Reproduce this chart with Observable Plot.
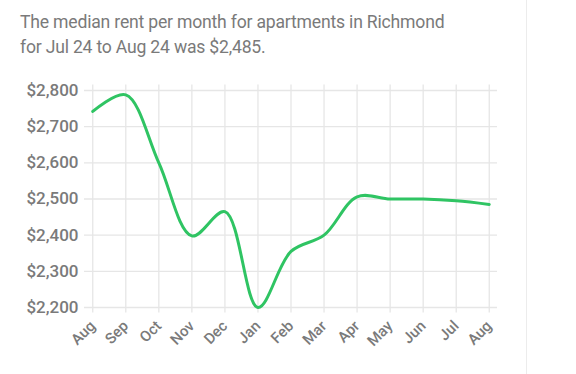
<!DOCTYPE html>
<html>
<head>
<meta charset="utf-8">
<script src="https://cdn.jsdelivr.net/npm/d3@7"></script>
<script src="https://cdn.jsdelivr.net/npm/@observablehq/plot@0.6"></script>
<style>
  html, body { margin: 0; padding: 0; background: #fff; }
  #wrap { position: relative; width: 576px; height: 374px; overflow: hidden; }
  #title { position: absolute; left: 20px; top: 10px; width: 470px; font-family: Roboto, "Noto Sans", sans-serif; font-size: 17.6px; line-height: 25px; color: #7a7a7a; letter-spacing: -0.2px; }
  #border { position: absolute; left: 526px; top: 0; width: 1px; height: 374px; background: #ececec; }
  #chart { position: absolute; left: 0; top: 0; }
</style>
</head>
<body>
<div id="wrap">
  <div id="chart"></div>
  <div id="title">The median rent per month for apartments in Richmond<br>for Jul 24 to Aug 24 was $2,485.</div>
  <div id="border"></div>
</div>
<script>
const months = ["Aug", "Sep", "Oct", "Nov", "Dec", "Jan", "Feb", "Mar", "Apr", "May", "Jun", "Jul", "Aug"];
const rents = [2742, 2788, 2600, 2398, 2465, 2200, 2355, 2400, 2506, 2500, 2500, 2495, 2485];
const yTicks = [2200, 2300, 2400, 2500, 2600, 2700, 2800];

const data = months.map((m, i) => ({i, month: m, rent: rents[i]}));
const idx = months.map((m, i) => i);
const fmt = d3.format("$,");

const chart = Plot.plot({
  width: 576,
  height: 374,
  marginTop: 90,
  marginBottom: 67,
  marginLeft: 84,
  marginRight: 79,
  style: {fontFamily: "Roboto, 'Noto Sans', sans-serif", background: "transparent", overflow: "visible"},
  x: {domain: [-0.25, 12.25], label: null},
  y: {domain: [2200, 2800], label: null},
  marks: [
    Plot.ruleY(yTicks, {stroke: "#e6e6e6", strokeWidth: 1.3}),
    Plot.ruleX(idx, {y1: 2185, y2: 2815, stroke: "#e6e6e6", strokeWidth: 1.3}),
    Plot.axisY({ticks: yTicks, tickFormat: fmt, tickSize: 0, tickPadding: 6, fontSize: 17, fill: "#7a7a7a", fontWeight: 500}),
    Plot.axisX({ticks: idx, tickFormat: i => months[i], tickSize: 0, tickRotate: -45, tickPadding: 16, fontSize: 15, fill: "#7a7a7a", fontWeight: 500}),
    Plot.line(data, {x: "i", y: "rent", stroke: "#2fc463", strokeWidth: 3, curve: "catmull-rom"})
  ]
});
document.getElementById("chart").appendChild(chart);
</script>
</body>
</html>
